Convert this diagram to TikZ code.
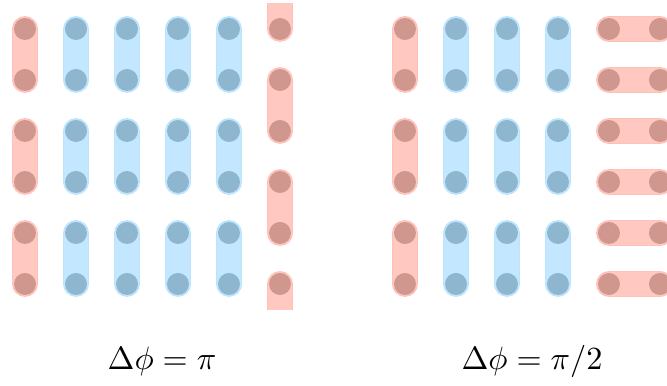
\documentclass[tikz,border=0pt]{standalone}
\usepackage{xcolor}
\usepackage{amsmath}
\usepackage{tikz}

\definecolor{redbar}{RGB}{255,200,193}
\definecolor{redrim}{RGB}{255,192,184}
\definecolor{reddot}{RGB}{208,151,143}
\definecolor{bluebar}{RGB}{194,231,255}
\definecolor{bluerim}{RGB}{186,227,253}
\definecolor{bluedot}{RGB}{143,182,207}

\tikzset{
  rbar/.style={draw=redrim, line width=0.3pt, double=redbar, double distance=7.4pt, line cap=round},
  bbar/.style={draw=bluerim, line width=0.3pt, double=bluebar, double distance=7.4pt, line cap=round},
  rdot/.style={fill=reddot},
  bdot/.style={fill=bluedot}
}

\begin{document}
\begin{tikzpicture}[x=0.31pt,y=-0.31pt]
            \useasboundingbox (0,0) rectangle (667,386);
            \clip (0,0) rectangle (667,386);

            % Left panel: vertical dimers
            \foreach \r in {29,131,233} {
                \draw[rbar] (25,\r) -- (25,\r+51);
                \foreach \c in {76,127,178,229}
                    \draw[bbar] (\c,\r) -- (\c,\r+51);
            }
            % Shifted column
            \begin{scope}
                \clip (262,4) rectangle (298,310);
                \foreach \r in {-22,80,182,284}
                    \draw[rbar] (280,\r) -- (280,\r+51);
            \end{scope}
            \foreach \r in {29,80,...,284} {
                \fill[rdot] (25,\r) circle[radius=11];
                \foreach \c in {76,127,178,229}
                    \fill[bdot] (\c,\r) circle[radius=11];
                \fill[rdot] (280,\r) circle[radius=11];
            }

            % Right panel: last column turned
            \foreach \r in {29,131,233} {
                \draw[rbar] (405,\r) -- (405,\r+51);
                \foreach \c in {456,507,558}
                    \draw[bbar] (\c,\r) -- (\c,\r+51);
            }
            \foreach \r in {29,80,...,284} {
                \draw[rbar] (609,\r) -- (660,\r);
                \fill[rdot] (405,\r) circle[radius=11];
                \foreach \c in {456,507,558}
                    \fill[bdot] (\c,\r) circle[radius=11];
                \fill[rdot] (609,\r) circle[radius=11];
                \fill[rdot] (660,\r) circle[radius=11];
            }

            % Labels
            \node[anchor=base] (lblpi) at (162,370) {$\Delta\phi = \pi$};
            \node[anchor=base] (lblhalf) at (532,370) {$\Delta\phi = \pi/2$};
\end{tikzpicture}
\end{document}
